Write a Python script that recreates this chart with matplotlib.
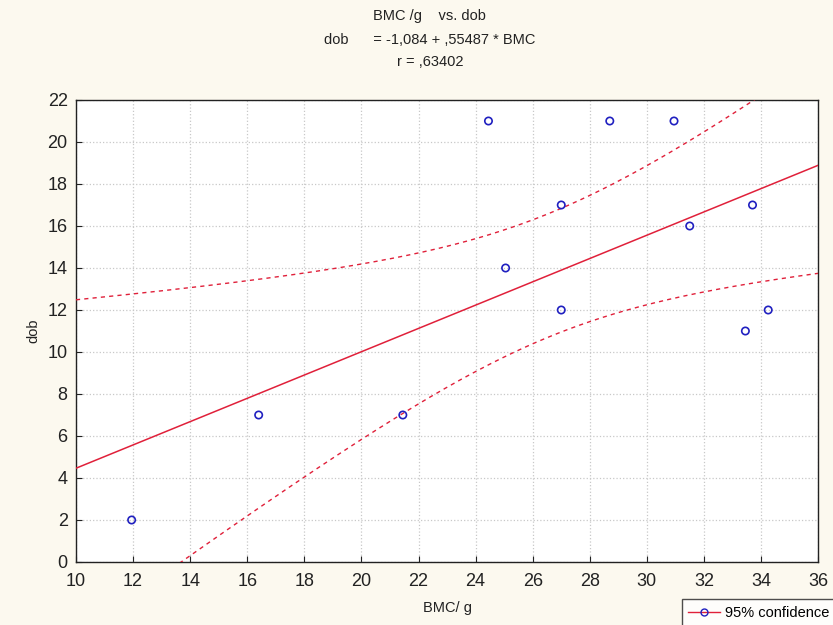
import numpy as np
import matplotlib
matplotlib.use('Agg')
import matplotlib.pyplot as plt
from matplotlib.lines import Line2D

# data
bmc = [11.95, 16.4, 21.45, 24.45, 25.05, 27.0, 27.0, 28.7, 30.95, 31.5, 33.7, 33.45, 34.25]
dob = [2, 7, 7, 21, 14, 17, 12, 21, 21, 16, 17, 11, 12]
intercept = -1.084
slope = 0.55487
t_crit = 2.201  # t(0.975, df=11)

x_ticks = list(range(10, 37, 2))
y_ticks = list(range(0, 23, 2))

plt.rcParams['font.family'] = ['Liberation Sans', 'DejaVu Sans']

bg = '#fcf9ef'
fig = plt.figure(figsize=(8.33, 6.25), dpi=100, facecolor=bg)
ax = fig.add_axes([0.0912, 0.1008, 0.891, 0.7392])
ax.set_facecolor('white')

x = np.array(bmc)
y = np.array(dob)
n = len(x)
resid = y - (intercept + slope * x)
s = np.sqrt(np.sum(resid ** 2) / (n - 2))
xm = x.mean()
sxx = np.sum((x - xm) ** 2)

xs = np.linspace(10, 36, 200)
fit = intercept + slope * xs
half = t_crit * s * np.sqrt(1.0 / n + (xs - xm) ** 2 / sxx)

ax.plot(xs, fit, color='#e0203a', lw=1.1, zorder=3)
ax.plot(xs, fit + half, color='#e0203a', lw=1.0, ls=(0, (3, 3)), zorder=3)
ax.plot(xs, fit - half, color='#e0203a', lw=1.0, ls=(0, (3, 3)), zorder=3)
ax.scatter(x, y, s=28, facecolors='none', edgecolors='#2020c0', linewidths=1.2, zorder=4)

ax.set_xlim(10, 36)
ax.set_ylim(0, 22)
ax.set_xticks(x_ticks)
ax.set_yticks(y_ticks)
ax.grid(True, color='#c8c8c8', ls=':', lw=0.9)
ax.tick_params(direction='in', length=4, labelsize=13, colors='#222222')
ax.tick_params(axis='x', pad=8)
ax.tick_params(axis='y', pad=6)
for sp in ax.spines.values():
    sp.set_color('#222222')
    sp.set_linewidth(1.0)

ax.set_xlabel('BMC/ g', fontsize=10.5, color='#222222', labelpad=8)
ax.set_ylabel('dob', fontsize=10.5, color='#222222', labelpad=5)

fig.text(0.516, 0.975, 'BMC /g    vs. dob', ha='center', va='center', fontsize=10.5, color='#222222')
fig.text(0.516, 0.936, 'dob      = -1,084 + ,55487 * BMC', ha='center', va='center', fontsize=10.5, color='#222222')
fig.text(0.516, 0.900, 'r = ,63402', ha='center', va='center', fontsize=10.5, color='#222222')

handle = Line2D([0], [0], color='#e0203a', lw=1.0, marker='o', markerfacecolor='none',
                markeredgecolor='#2020c0', markersize=5)
leg = fig.legend([handle], ['95% confidence'], loc='lower right', bbox_to_anchor=(1.012, -0.014),
                 fontsize=10.5, frameon=True, fancybox=False, handlelength=2.2, borderpad=0.45,
                 handletextpad=0.3)
leg.get_frame().set_edgecolor('#222222')
leg.get_frame().set_facecolor('white')

fig.savefig('out.png', dpi=100, facecolor=bg)
